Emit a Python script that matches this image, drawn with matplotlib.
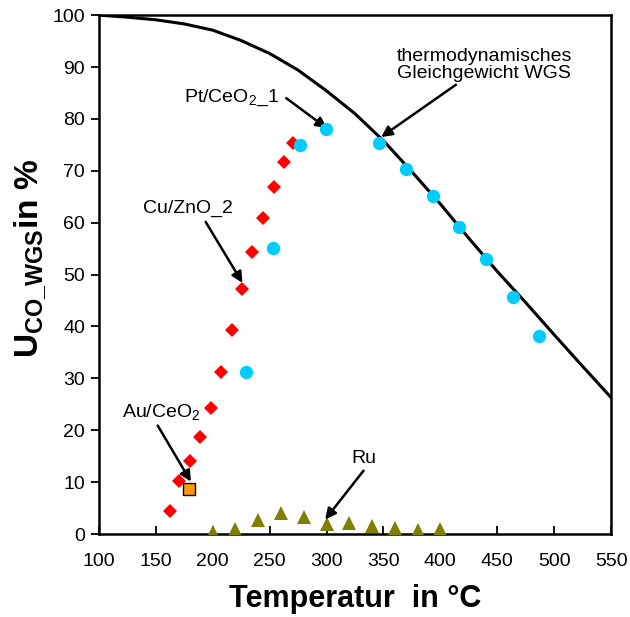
import numpy as np
import matplotlib
matplotlib.use("Agg")
import matplotlib.pyplot as plt

plt.rcParams['font.family'] = ['Liberation Sans', 'DejaVu Sans']
plt.rcParams['mathtext.fontset'] = 'custom'
plt.rcParams['mathtext.rm'] = 'Liberation Sans'
plt.rcParams['mathtext.it'] = 'Liberation Sans:italic'
plt.rcParams['mathtext.bf'] = 'Liberation Sans:bold'

# thermodynamic equilibrium curve
t_eq = [100, 125, 150, 175, 200, 225, 250, 275, 300, 325, 350, 375, 400, 425, 450, 475, 500, 525, 550]
u_eq = [100.0, 99.6, 99.1, 98.3, 97.1, 95.1, 92.6, 89.4, 85.4, 81.0, 75.8, 69.8, 63.6, 57.0, 50.6, 44.6, 38.4, 32.3, 26.3]

# Pt/CeO2_1
t_pt = [229.4, 252.8, 276.6, 299.7, 346.3, 369.7, 393.5, 416.8, 440.0, 463.4, 486.9]
u_pt = [31.3, 55.1, 74.9, 78.0, 75.4, 70.3, 65.2, 59.2, 53.0, 45.7, 38.2]

# Cu/ZnO_2
t_cu = [162.8, 170.8, 180.4, 189.2, 198.6, 207.7, 217.1, 226.1, 234.9, 244.1, 253.7, 262.2, 270.4]
u_cu = [4.4, 10.2, 14.0, 18.7, 24.3, 31.3, 39.4, 47.2, 54.3, 60.9, 66.9, 71.6, 75.4]

# Au/CeO2
t_au = [179.5]
u_au = [8.6]

# Ru
t_ru = [200, 220, 240, 260, 280, 300, 320, 340, 360, 380, 400]
u_ru = [0.3, 1.0, 2.7, 4.0, 3.2, 2.0, 2.1, 1.6, 1.2, 0.8, 1.0]

fig = plt.figure(figsize=(6.3, 6.17), dpi=100)
ax = fig.add_axes([0.157, 0.1345, 0.813, 0.841])

ax.plot(t_eq, u_eq, color='black', lw=2.2, zorder=2)
ax.plot(t_cu, u_cu, 'D', color='#FF0000', ms=7.2, mew=0, zorder=3)
ax.plot(t_pt, u_pt, 'o', color='#00CCFF', ms=9.6, mew=0, zorder=4)
ax.plot(t_au, u_au, 's', color='#FF9900', mec='black', mew=1.0, ms=8, zorder=5)
ax.plot(t_ru, u_ru, '^', color='#808000', ms=9.5, mew=0, zorder=3)

arrow = dict(arrowstyle='-|>', lw=1.8, color='black', mutation_scale=16, shrinkA=0, shrinkB=0)
ax.annotate('thermodynamisches\nGleichgewicht WGS', xy=(348, 76.5), xytext=(438.5, 90.4),
            ha='center', va='center', fontsize=14, linespacing=1.0, arrowprops=arrow)
ax.annotate(r'Pt/CeO$_2$_1', xy=(300.3, 78.2), xytext=(216.2, 84.0),
            ha='center', va='center', fontsize=14, arrowprops=dict(arrow, relpos=(1.08, 0.5)))
ax.annotate('Cu/ZnO_2', xy=(226.1, 48.4), xytext=(178, 62.8),
            ha='center', va='center', fontsize=14, arrowprops=dict(arrow, relpos=(0.7, -0.3)))
ax.annotate(r'Au/CeO$_2$', xy=(180.8, 10.1), xytext=(155.1, 23.6),
            ha='center', va='center', fontsize=14, arrowprops=dict(arrow, relpos=(0.45, -0.2)))
ax.annotate('Ru', xy=(298.8, 2.8), xytext=(332.5, 14.5),
            ha='center', va='center', fontsize=14, arrowprops=dict(arrow, relpos=(0.5, -0.2)))

ax.set_xlim(100, 550)
ax.set_ylim(0, 100)
ax.set_xticks(np.arange(100, 551, 50))
ax.set_yticks(np.arange(0, 101, 10))
ax.tick_params(axis='x', direction='in', length=6, width=1.3, labelsize=14, pad=14)
ax.tick_params(axis='y', direction='out', length=6, width=1.3, labelsize=14, pad=4)
for s in ax.spines.values():
    s.set_linewidth(1.8)

ax.set_xlabel('Temperatur  in °C', fontsize=22, fontweight='bold', labelpad=10)
ax.set_ylabel(r'$\mathbf{U_{CO\_WGS}}$in %', fontsize=24, fontweight='bold')
ax.yaxis.set_label_coords(-0.1, 0.53)

plt.savefig('out.png', dpi=100)
